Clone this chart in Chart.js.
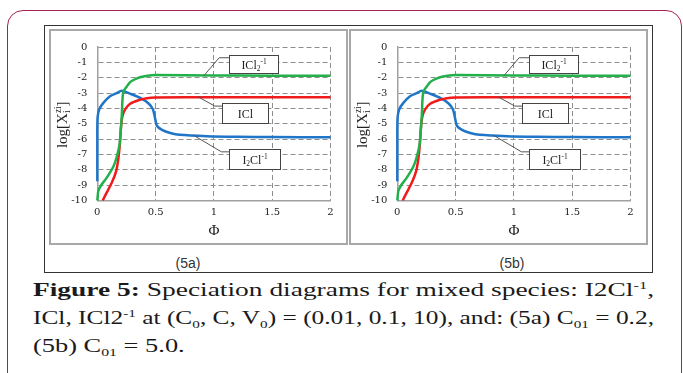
<!DOCTYPE html>
<html>
<head>
<meta charset="utf-8">
<script src="https://cdn.jsdelivr.net/npm/chart.js@4.4.0/dist/chart.umd.min.js"></script>
<style>
  body { margin: 0; width: 683px; height: 373px; overflow: hidden; position: relative; background: #fff; }
  .card { position: absolute; left: 7px; top: 10px; width: 675px; height: 420px; box-sizing: border-box;
          border: 1.5px solid #a3234f; border-radius: 16px; }
  .frame { position: absolute; left: 44px; top: 25px; width: 609px; height: 248px; box-sizing: border-box; border: 1px solid #333; background: #fff; }
  .panel { position: absolute; top: 29px; width: 299px; height: 216px; box-sizing: border-box; border: 2px solid #a8a8a8; background: #fff; }
  canvas { position: absolute; }
  .sub-label { position: absolute; top: 255px; width: 60px; text-align: center; font: 14px "Liberation Sans", sans-serif; color: #333; }
  .cap { position: absolute; left: 33px; white-space: nowrap; transform-origin: 0 0;
         font: 19px/1 "Liberation Serif", serif; color: #1a1a1a; }
  .cap sup, .cap sub { vertical-align: baseline; position: relative; font-size: 0.6em; }
  .cap sup { top: -0.6em; }
  .cap sub { top: 0.35em; }
</style>
</head>
<body>
<div class="card"></div>
<div class="frame"></div>
<div class="panel" style="left:49px"></div>
<div class="panel" style="left:349px"></div>
<canvas id="chartA" width="295" height="212" style="left:51px;top:31px"></canvas>
<canvas id="chartB" width="295" height="212" style="left:351px;top:31px"></canvas>
<div class="sub-label" style="left:158px">(5a)</div>
<div class="sub-label" style="left:482px">(5b)</div>
<div class="cap" id="cap1" style="top:280px"><b>Figure 5:</b> Speciation diagrams for mixed species: I2Cl<sup>-1</sup>,</div>
<div class="cap" id="cap2" style="top:308px">ICl, ICl2<sup>-1</sup> at (C<sub>0</sub>, C, V<sub>0</sub>) = (0.01, 0.1, 10), and: (5a) C<sub>01</sub> = 0.2,</div>
<div class="cap" id="cap3" style="top:336px">(5b) C<sub>01</sub> = 5.0.</div>
<script>
// axis ticks
const phiTicks = [0, 0.5, 1, 1.5, 2];
const logTicks = [0, -1, -2, -3, -4, -5, -6, -7, -8, -9, -10];

// I2Cl-1 (blue)
const i2clPhi = [0, 0, 0.003, 0.017, 0.052, 0.109, 0.167, 0.21, 0.28, 0.368, 0.44, 0.477, 0.497, 0.511, 0.555, 0.626, 0.707, 0.94, 1.2, 1.5, 2];
const i2clLog = [-8.75, -5.4, -4.55, -4.06, -3.64, -3.21, -3.0, -2.85, -3.04, -3.32, -3.68, -4.06, -4.7, -5.13, -5.4, -5.6, -5.72, -5.81, -5.85, -5.87, -5.88];

// ICl2-1 (green)
const icl2Phi = [0, 0.009, 0.037, 0.08, 0.138, 0.167, 0.19, 0.2, 0.21, 0.216, 0.224, 0.253, 0.28, 0.31, 0.366, 0.43, 0.5, 1, 1.5, 2];
const icl2Log = [-10, -9.38, -8.96, -8.53, -7.79, -7.15, -6.4, -5.55, -4.49, -3.43, -2.9, -2.57, -2.3, -2.15, -1.97, -1.87, -1.83, -1.85, -1.87, -1.88];

// ICl (red)
const iclPhi = [0.046, 0.08, 0.124, 0.161, 0.181, 0.195, 0.204, 0.216, 0.239, 0.282, 0.353, 0.425, 0.497, 1, 1.5, 2];
const iclLog = [-10, -9.49, -8.85, -8.1, -7.26, -6.19, -5.13, -4.49, -4.06, -3.7, -3.47, -3.34, -3.29, -3.27, -3.27, -3.27];

const toPoints = (xs, ys) => xs.map((x, i) => ({ x: x, y: ys[i] }));

// callout boxes (in data units)
const callouts = [
  { parts: [{ t: 'ICl' }, { t: '2', sub: true }, { t: '-1', sup: true }],
    box: [1.13, -0.53, 1.55, -1.68], leader: [[1.13, -0.70], [1.045, -0.70], [0.914, -1.87]] },
  { parts: [{ t: 'ICl' }],
    box: [1.07, -3.68, 1.46, -4.92], leader: [[1.07, -3.85], [1.008, -3.85], [0.865, -3.25]] },
  { parts: [{ t: 'I' }, { t: '2', sub: true }, { t: 'Cl' }, { t: '-1', sup: true }],
    box: [1.13, -6.62, 1.57, -7.93], leader: [[1.13, -6.83], [1.065, -6.83], [0.822, -5.74]] }
];
const yTitle = [{ t: 'log[X' }, { t: 'i', sub: true, hold: true }, { t: 'zi', sup: true }, { t: ']' }];

function drawRich(ctx, parts, cx, baseline, size) {
  const small = size * 0.62;
  let total = 0;
  parts.forEach(p => {
    ctx.font = `${p.sub || p.sup ? small : size}px "Liberation Serif"`;
    p.w = ctx.measureText(p.t).width;
    if (!p.hold) total += p.w;
  });
  let x = cx - total / 2;
  ctx.textAlign = 'left';
  ctx.textBaseline = 'alphabetic';
  parts.forEach(p => {
    ctx.font = `${p.sub || p.sup ? small : size}px "Liberation Serif"`;
    const dy = p.sub ? size * 0.22 : p.sup ? -size * 0.38 : 0;
    ctx.fillText(p.t, x, baseline + dy);
    if (!p.hold) x += p.w;
  });
}

const decorPlugin = {
  id: 'decor',
  afterDatasetsDraw(chart) {
    const { ctx, chartArea, scales: { x, y } } = chart;
    ctx.save();
    callouts.forEach(c => {
      ctx.strokeStyle = '#555';
      ctx.lineWidth = 1;
      ctx.beginPath();
      c.leader.forEach(([a, b], i) => {
        const px = x.getPixelForValue(a), py = y.getPixelForValue(b);
        if (i) ctx.lineTo(px, py); else ctx.moveTo(px, py);
      });
      ctx.stroke();
      const x0 = Math.round(x.getPixelForValue(c.box[0])) + 0.5;
      const y0 = Math.round(y.getPixelForValue(c.box[1])) + 0.5;
      const x1 = Math.round(x.getPixelForValue(c.box[2])) + 0.5;
      const y1 = Math.round(y.getPixelForValue(c.box[3])) + 0.5;
      ctx.fillStyle = '#fff';
      ctx.fillRect(x0, y0, x1 - x0, y1 - y0);
      ctx.strokeStyle = '#444';
      ctx.strokeRect(x0, y0, x1 - x0, y1 - y0);
      ctx.fillStyle = '#222';
      drawRich(ctx, c.parts, (x0 + x1) / 2, (y0 + y1) / 2 + 4, 12);
    });
    // axis titles
    ctx.fillStyle = '#222';
    drawRich(ctx, [{ t: 'Φ' }], (chartArea.left + chartArea.right) / 2, chartArea.bottom + 34, 15);
    ctx.translate(chartArea.left - 30.5, (chartArea.top + chartArea.bottom) / 2 + 1);
    ctx.rotate(-Math.PI / 2);
    drawRich(ctx, yTitle, 0, 0, 15);
    ctx.restore();
  }
};

function makeChart(id) {
  const line = (pts, color) => ({
    data: pts, borderColor: color, backgroundColor: color, borderWidth: 2.5,
    showLine: true, pointRadius: 0, tension: 0.25, clip: 4
  });
  return new Chart(document.getElementById(id), {
    type: 'scatter',
    data: {
      datasets: [
        line(toPoints(icl2Phi, icl2Log), '#22b04b'),
        line(toPoints(iclPhi, iclLog), '#f01c1c'),
        line(toPoints(i2clPhi, i2clLog), '#1f76c8')
      ]
    },
    options: {
      responsive: false,
      animation: false,
      devicePixelRatio: 1,
      layout: { padding: { top: 13, right: 15.5, left: 0, bottom: 0 } },
      plugins: { legend: { display: false }, tooltip: { enabled: false } },
      scales: {
        x: {
          type: 'linear', min: 0, max: 2,
          afterBuildTicks: s => { s.ticks = phiTicks.map(v => ({ value: v })); },
          afterFit: s => { s.height = 42.5; },
          ticks: { padding: 6, color: '#222', font: { family: 'DejaVu Serif', size: 10 }, callback: v => String(v) },
          grid: { color: '#8e8e8e', lineWidth: 1, drawTicks: false },
          border: { color: '#a0a0a0', width: 1.5, dash: [5, 3] }
        },
        y: {
          type: 'linear', min: -10, max: 0,
          afterBuildTicks: s => { s.ticks = logTicks.map(v => ({ value: v })); },
          afterFit: s => { s.width = 46.3; },
          ticks: { padding: 10, color: '#222', font: { family: 'DejaVu Serif', size: 10 }, callback: v => String(v) },
          grid: { color: '#8e8e8e', lineWidth: 1, drawTicks: false },
          border: { color: '#a0a0a0', width: 1.5, dash: [5, 3] }
        }
      }
    },
    plugins: [decorPlugin]
  });
}

makeChart('chartA');
makeChart('chartB');

// stretch caption lines to the measured width of the figure text
const capWidth = 621;
const c1 = document.getElementById('cap1'), c2 = document.getElementById('cap2'), c3 = document.getElementById('cap3');
const s1 = capWidth / c1.getBoundingClientRect().width;
const s2 = capWidth / c2.getBoundingClientRect().width;
c1.style.transform = `scaleX(${s1})`;
c2.style.transform = `scaleX(${s2})`;
c3.style.transform = `scaleX(${(s1 + s2) / 2})`;
</script>
</body>
</html>
